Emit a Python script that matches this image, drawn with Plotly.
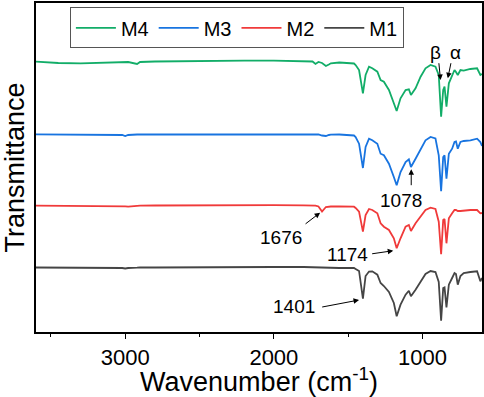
import plotly.graph_objects as go

# Wavenumber grid (cm-1)
wavenumber = [3600, 3450, 3300, 3150, 3020, 3000, 2980, 2920, 2900, 2800, 2600, 2400,
              2200, 2000, 1800, 1740, 1720, 1700, 1676, 1650, 1630, 1617, 1560, 1483,
              1461, 1450, 1427, 1401, 1383, 1360, 1338, 1304, 1282, 1260, 1226, 1193,
              1174, 1148, 1114, 1092, 1078, 1047, 1013, 980, 946, 913, 891, 875, 861,
              852, 839, 823, 801, 785, 775, 763, 745, 723, 678, 633, 611, 600]

# Offset transmittance (a.u.)
m4 = [270.3, 269, 268.7, 269, 270, 270, 270, 268, 270, 270.5, 271, 271,
      271.3, 271.3, 271, 270.5, 268, 270, 269, 266, 267.5, 268.7, 269.5, 269.3,
      268.5, 267, 262, 238.7, 257, 265.3, 263.7, 260.3, 252, 250.3, 242, 228.7,
      221, 233.7, 242, 242.7, 237, 243.7, 255.3, 263.7, 267, 265.3, 257, 215.3, 242,
      245.3, 225.3, 248.7, 257, 262, 260, 257, 262, 261.3, 263, 263.7, 257, 258]
m3 = [197.7, 197.5, 197.5, 197.5, 197, 196, 197, 197.5, 197.5, 197.7, 198, 198,
      198, 198, 198, 198, 197.7, 197.5, 196.5, 196, 197, 197.3, 197.5, 197.3,
      196.5, 195, 188.3, 164, 185, 193.3, 191.7, 188.3, 178.3, 176.7, 168.3, 155,
      146.7, 160, 170, 172.7, 165, 173.3, 183.3, 191.7, 195, 193.5, 176.7, 140.7, 175,
      176.7, 153.3, 178.3, 183.3, 190, 190.5, 183.3, 190, 191, 191.7, 193.3, 190, 186]
m2 = [126.3, 126.3, 126.2, 126.3, 126.3, 125.7, 125.3, 126.2, 126.3, 126.5, 126.7, 126.7,
      126.8, 126.8, 126.7, 126.5, 126.3, 125.5, 120.5, 125, 125.7, 125.5, 125.5, 125.3,
      125.3, 124, 120.3, 100.3, 117, 123, 122, 118.7, 108.7, 105.3, 102, 93.7,
      83.7, 93.7, 105.3, 107, 101, 108.7, 115.3, 122, 124.3, 123, 110.3, 77.7, 112,
      113, 88.7, 113.7, 118.7, 122, 122, 121, 121, 121.5, 122, 122, 118.7, 119]
m1 = [64.5, 64.5, 64.5, 64.5, 64, 63.5, 64, 64.3, 64.5, 64.5, 64.8, 65,
      65, 65, 65, 64.8, 64.7, 64.5, 64.2, 63.8, 64, 64, 64, 64,
      64, 63, 61, 33.3, 56, 60.5, 60.7, 57.3, 49, 46, 40, 29,
      15.7, 27.3, 37.3, 41.3, 35.7, 42.3, 50.7, 58, 61, 60, 50, 11.3, 44,
      44.7, 24.7, 47.3, 54, 59, 58, 47.3, 56, 59, 60, 60.7, 50.7, 54]

series_names = ["M4", "M3", "M2", "M1"]
series_values = [m4, m3, m2, m1]
series_colors = ["#12AD68", "#1874E0", "#F03A3A", "#454545"]

x_tick_vals = [3000, 2000, 1000]
x_tick_text = ["3000", "2000", "1000"]

# Labelled bands: (text, arrow head (wn, y), arrow tail (wn, y), text position (wn, y))
labels = [
    ("\u03b2", (879, 252), (891, 270.3), (913, 279.3)),
    ("\u03b1", (830, 253.7), (807, 270.3), (779, 280)),
    ("1078", (1076, 162.7), (1076, 145.3), (1148, 131.3)),
    ("1676", (1689, 119.3), (1797, 107), (1953, 95)),
    ("1174", (1197, 81.3), (1349, 78), (1503, 78)),
    ("1401", (1427, 32), (1685, 24.7), (1866, 26)),
]

FONT = "Liberation Sans, Arial, sans-serif"

fig = go.Figure()
for name, vals, col in zip(series_names, series_values, series_colors):
    fig.add_trace(go.Scatter(x=wavenumber, y=vals, mode="lines", name=name,
                             line=dict(color=col, width=1.8)))

annotations = []
for text, head, tail, pos in labels:
    annotations.append(dict(x=head[0], y=head[1], ax=tail[0], ay=tail[1],
                            xref="x", yref="y", axref="x", ayref="y", text="",
                            showarrow=True, arrowhead=2, arrowsize=1.1,
                            arrowwidth=1, arrowcolor="black"))
    annotations.append(dict(x=pos[0], y=pos[1], xref="x", yref="y", text=text,
                            showarrow=False, font=dict(size=19, color="black", family=FONT)))

fig.update_layout(
    width=484, height=397,
    margin=dict(l=36, r=2, t=3, b=65, autoexpand=False),
    paper_bgcolor="white", plot_bgcolor="white",
    font=dict(family=FONT, color="black"),
    showlegend=True,
    legend=dict(orientation="h", x=0.076, y=0.987, xanchor="left", yanchor="top",
                bordercolor="#555555", borderwidth=1, bgcolor="white",
                font=dict(size=20, family=FONT, color="black"),
                itemwidth=40, tracegroupgap=0),
    annotations=annotations,
    xaxis=dict(range=[3600, 600], autorange=False, showgrid=False, zeroline=False,
               automargin=False,
               showline=True, linecolor="black", linewidth=1.5, mirror=True,
               tickvals=x_tick_vals, ticktext=x_tick_text, ticks="outside",
               ticklen=5, tickwidth=1.2, tickcolor="black",
               minor=dict(tickvals=[3500, 2500, 1500], ticks="outside", ticklen=3,
                          tickwidth=1.2, tickcolor="black", showgrid=False),
               tickfont=dict(size=22, family=FONT, color="black"),
               title=dict(text="Wavenumber (cm<sup>-1</sup>)", standoff=2,
                          font=dict(size=27, family=FONT, color="black"))),
    yaxis=dict(range=[0, 329], autorange=False, showgrid=False, zeroline=False,
               automargin=False,
               showline=True, linecolor="black", linewidth=1.5, mirror=True,
               showticklabels=False, ticks="",
               title=dict(text="Transmittance", standoff=4,
                          font=dict(size=27, family=FONT, color="black"))),
)

fig.write_html("out.html", config={"displayModeBar": False},
               post_script="document.body.style.margin='0';document.body.style.overflow='hidden';")
